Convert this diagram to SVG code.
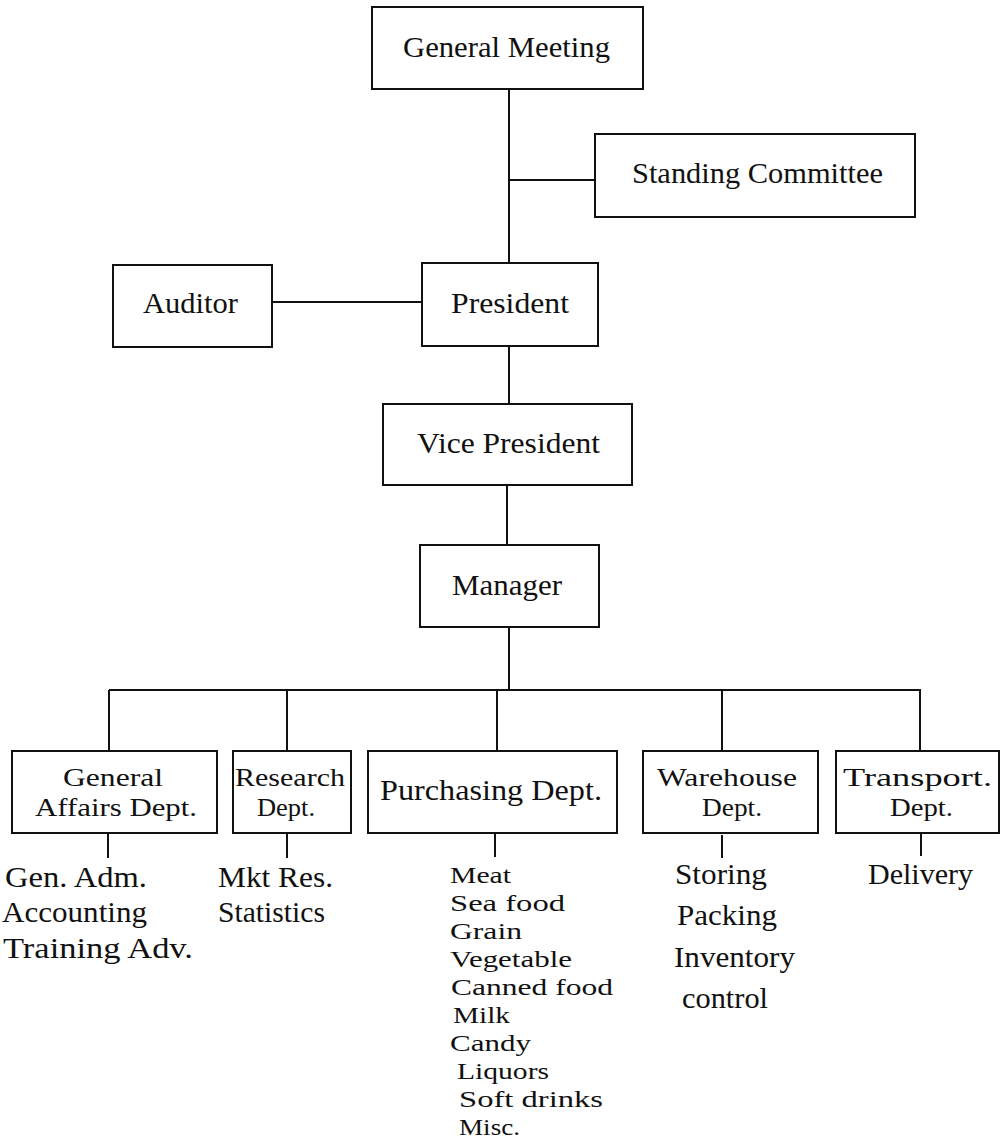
<svg xmlns="http://www.w3.org/2000/svg" width="1002" height="1143" viewBox="0 0 1002 1143">
<style>
.box{fill:none;stroke:#111;stroke-width:2}
.ln{fill:none;stroke:#111;stroke-width:2}
text{font-family:"Liberation Serif","Times New Roman",serif;font-size:30px;fill:#111}
.two{font-size:25px}
.sm{font-size:24px}
</style>
<rect width="1002" height="1143" fill="#fff"/>
<g id="connectors">
<path class="ln" d="M509 89V263M509 180H595M272 302H422M509 346V404M507 485V545M509 627V690M109 690H921M109 690V751M287 690V751M497 690V751M722 690V751M920 690V751M108 833V858M287 833V858M495 833V857M722 835V858M921 833V856"/>
</g>
<g id="general-meeting"><rect class="box" x="372" y="7" width="271" height="82"/><text x="403" y="57" textLength="207" lengthAdjust="spacingAndGlyphs">General Meeting</text></g>
<g id="standing-committee"><rect class="box" x="595" y="134" width="320" height="83"/><text x="632" y="183" textLength="251" lengthAdjust="spacingAndGlyphs">Standing Committee</text></g>
<g id="auditor"><rect class="box" x="113" y="265" width="159" height="82"/><text x="143" y="313" textLength="95" lengthAdjust="spacingAndGlyphs">Auditor</text></g>
<g id="president"><rect class="box" x="422" y="263" width="176" height="83"/><text x="451" y="313" textLength="118" lengthAdjust="spacingAndGlyphs">President</text></g>
<g id="vice-president"><rect class="box" x="383" y="404" width="249" height="81"/><text x="417" y="453" textLength="183" lengthAdjust="spacingAndGlyphs">Vice President</text></g>
<g id="manager"><rect class="box" x="420" y="545" width="179" height="82"/><text x="452" y="595" textLength="110" lengthAdjust="spacingAndGlyphs">Manager</text></g>
<g id="general-affairs"><rect class="box" x="12" y="751" width="205" height="82"/><text class="two" x="63" y="786" textLength="100" lengthAdjust="spacingAndGlyphs">General</text><text class="two" x="35" y="816" textLength="162" lengthAdjust="spacingAndGlyphs">Affairs Dept.</text>
<text x="5" y="887" textLength="142" lengthAdjust="spacingAndGlyphs">Gen. Adm.</text><text x="2" y="922" textLength="145" lengthAdjust="spacingAndGlyphs">Accounting</text><text x="3" y="958" textLength="190" lengthAdjust="spacingAndGlyphs">Training Adv.</text></g>
<g id="research"><rect class="box" x="233" y="751" width="118" height="82"/><text class="two" x="235" y="786" textLength="110" lengthAdjust="spacingAndGlyphs">Research</text><text class="two" x="257" y="816" textLength="58" lengthAdjust="spacingAndGlyphs">Dept.</text>
<text x="218" y="887" textLength="115" lengthAdjust="spacingAndGlyphs">Mkt Res.</text><text x="218" y="922" textLength="107" lengthAdjust="spacingAndGlyphs">Statistics</text></g>
<g id="purchasing"><rect class="box" x="368" y="751" width="249" height="82"/><text x="380" y="800" textLength="222" lengthAdjust="spacingAndGlyphs">Purchasing Dept.</text>
<text class="sm" x="450" y="883" textLength="61" lengthAdjust="spacingAndGlyphs">Meat</text>
<text class="sm" x="450" y="911" textLength="115" lengthAdjust="spacingAndGlyphs">Sea food</text>
<text class="sm" x="450" y="939" textLength="72" lengthAdjust="spacingAndGlyphs">Grain</text>
<text class="sm" x="450" y="967" textLength="122" lengthAdjust="spacingAndGlyphs">Vegetable</text>
<text class="sm" x="451" y="995" textLength="162" lengthAdjust="spacingAndGlyphs">Canned food</text>
<text class="sm" x="453" y="1023" textLength="57" lengthAdjust="spacingAndGlyphs">Milk</text>
<text class="sm" x="450" y="1051" textLength="81" lengthAdjust="spacingAndGlyphs">Candy</text>
<text class="sm" x="457" y="1079" textLength="92" lengthAdjust="spacingAndGlyphs">Liquors</text>
<text class="sm" x="459" y="1107" textLength="144" lengthAdjust="spacingAndGlyphs">Soft drinks</text>
<text class="sm" x="459" y="1135" textLength="61" lengthAdjust="spacingAndGlyphs">Misc.</text></g>
<g id="warehouse"><rect class="box" x="643" y="751" width="175" height="82"/><text class="two" x="657" y="786" textLength="140" lengthAdjust="spacingAndGlyphs">Warehouse</text><text class="two" x="702" y="816" textLength="60" lengthAdjust="spacingAndGlyphs">Dept.</text>
<text x="675" y="884" textLength="92" lengthAdjust="spacingAndGlyphs">Storing</text><text x="677" y="925" textLength="100" lengthAdjust="spacingAndGlyphs">Packing</text><text x="674" y="967" textLength="121" lengthAdjust="spacingAndGlyphs">Inventory</text><text x="682" y="1008" textLength="86" lengthAdjust="spacingAndGlyphs">control</text></g>
<g id="transport"><rect class="box" x="836" y="751" width="163" height="82"/><text class="two" x="843" y="786" textLength="149" lengthAdjust="spacingAndGlyphs">Transport.</text><text class="two" x="890" y="816" textLength="63" lengthAdjust="spacingAndGlyphs">Dept.</text>
<text x="868" y="884" textLength="105" lengthAdjust="spacingAndGlyphs">Delivery</text></g>
</svg>
